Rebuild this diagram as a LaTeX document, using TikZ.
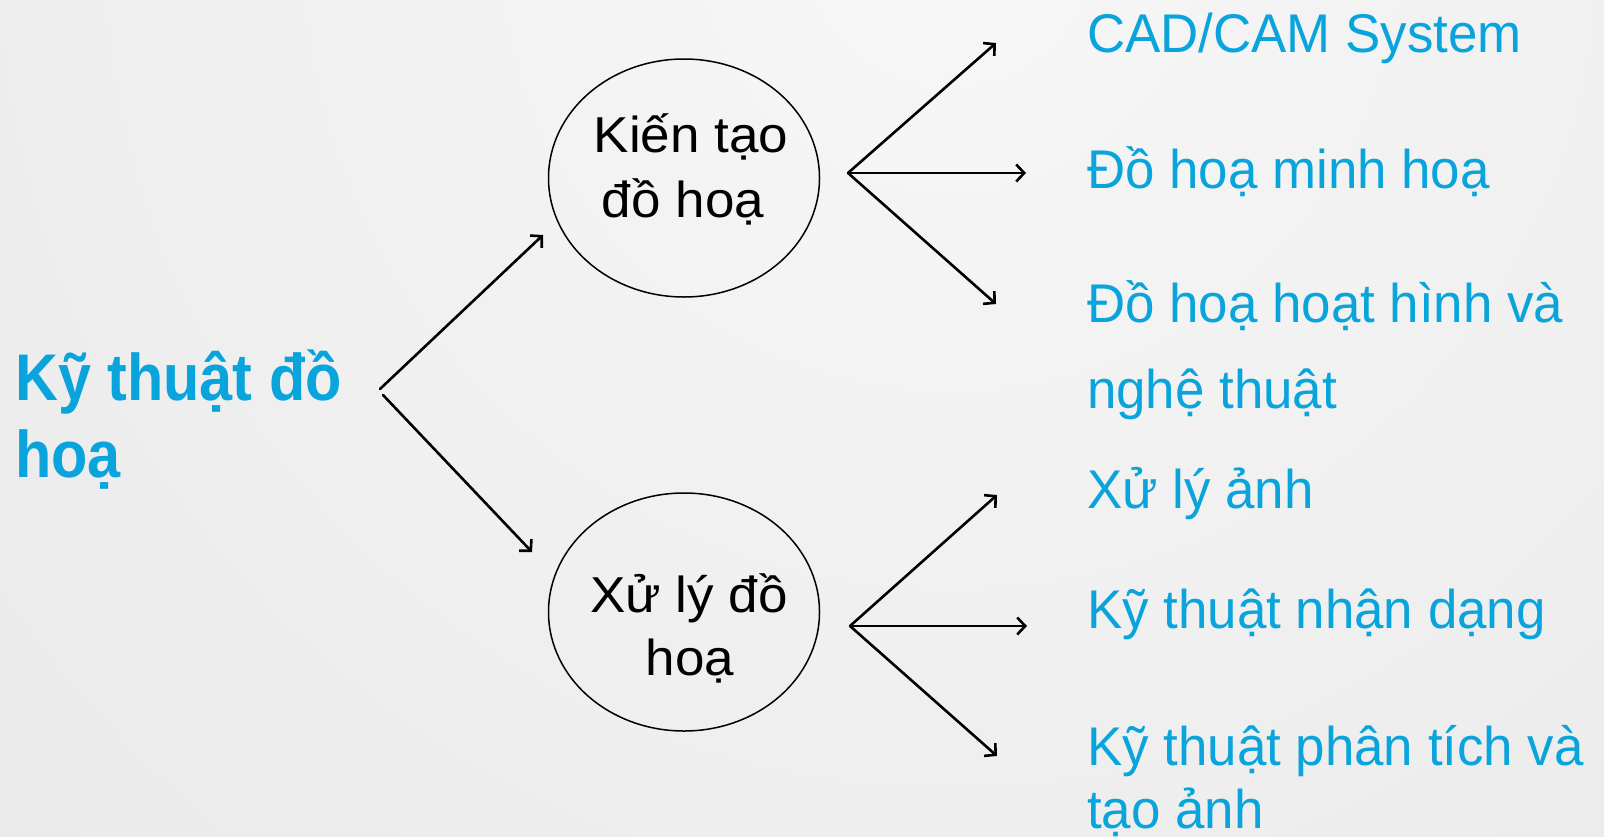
\documentclass[tikz,border=0pt]{standalone}
\usepackage{fontspec}
\setmainfont{Liberation Sans}
\newfontfamily\bluefont[FakeStretch=0.97]{Liberation Sans}
\newfontfamily\headfont[FakeStretch=0.9]{Liberation Sans Bold}
\newfontfamily\ellfont[FakeStretch=1.05]{Liberation Sans}
\usetikzlibrary{shapes.geometric,arrows.meta}
\definecolor{myblue}{RGB}{9,164,220}
\definecolor{bgin}{RGB}{247,247,247}
\definecolor{bgout}{RGB}{220,220,220}
\begin{document}
\begin{tikzpicture}[x=1pt,y=-1pt,
  bluetext/.style={anchor=base west,inner sep=0pt,text=myblue,font=\bluefont\fontsize{54.5}{60}\selectfont},
  headtext/.style={anchor=base west,inner sep=0pt,text=myblue,font=\headfont\fontsize{66}{72}\selectfont},
  inner/.style={anchor=base,inner sep=0pt,text=black,font=\ellfont\fontsize{50.5}{56}\selectfont},
  bubble/.style={ellipse,draw=black,line width=1.5pt,minimum width=271pt,minimum height=238pt,inner sep=0pt},
  arr/.style={line width=2.6pt,line cap=round,-{Straight Barb[length=8pt,width=17pt,line width=2.6pt]}}]
\useasboundingbox (0,0) rectangle (1604,836);
\begin{scope}
  \clip (0,0) rectangle (1604,836);
  \shade[inner color=bgin,outer color=bgout] (950,-60) circle (2700pt);
\end{scope}

% heading
\node[headtext] (h1) at (15,400) {Kỹ thuật đồ};
\node[headtext] (h2) at (15,477) {hoạ};

% ellipses
\node[bubble] (e1) at (684,178) {};
\node[bubble] (e2) at (684,612) {};
\node[inner] (e1a) at (691,152) {Kiến tạo};
\node[inner] (e1b) at (683,217) {đồ hoạ};
\node[inner] (e2a) at (689,612) {Xử lý đồ};
\node[inner] (e2b) at (690,675) {hoạ};

% right texts
\node[bluetext] (r1) at (1087,52) {CAD/CAM System};
\node[bluetext] (r2) at (1087,188) {Đồ hoạ minh hoạ};
\node[bluetext] (r3) at (1087,322) {Đồ hoạ hoạt hình và};
\node[bluetext] (r3b) at (1087,408) {nghệ thuật};
\node[bluetext] (r4) at (1087,508) {Xử lý ảnh};
\node[bluetext] (r5) at (1087,628) {Kỹ thuật nhận dạng};
\node[bluetext] (r6) at (1087,765) {Kỹ thuật phân tích và};
\node[bluetext] (r6b) at (1087,828) {tạo ảnh};

% connector end points
\coordinate (s1) at (380,389); \coordinate (t1) at (543,235);
\coordinate (s2) at (383,395); \coordinate (t2) at (532,552);
\coordinate (f1) at (848,173);
\coordinate (f1a) at (996,43); \coordinate (f1b) at (1026,173); \coordinate (f1c) at (996,304);
\coordinate (f2) at (850,626);
\coordinate (f2a) at (997,495); \coordinate (f2b) at (1027,626); \coordinate (f2c) at (997,756);

\draw[arr] (s1) -- (t1);
\draw[arr] (s2) -- (t2);
\draw[arr] (f1) -- (f1a);
\draw[arr] (f1) -- (f1b);
\draw[arr] (f1) -- (f1c);
\draw[arr] (f2) -- (f2a);
\draw[arr] (f2) -- (f2b);
\draw[arr] (f2) -- (f2c);
\end{tikzpicture}
\end{document}
